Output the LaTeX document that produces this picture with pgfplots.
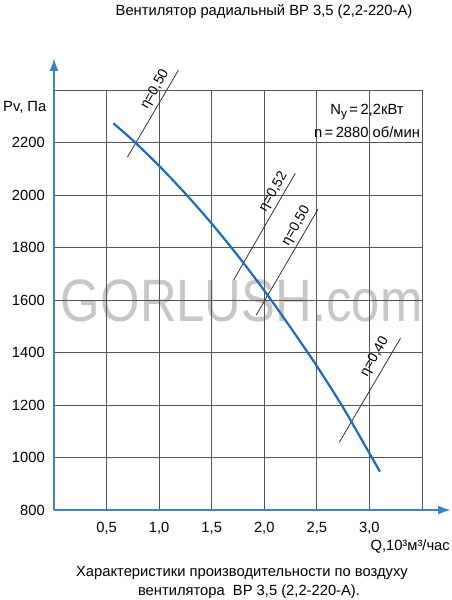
\documentclass[border=0pt]{standalone}
\usepackage{fontspec}
\setmainfont{Liberation Sans}
\usepackage{pgfplots}
\pgfplotsset{compat=1.18}
\usetikzlibrary{arrows.meta}
\definecolor{curveblue}{HTML}{1A6DBE}
\definecolor{axisblue}{HTML}{3A82CA}
\definecolor{gridgray}{HTML}{555555}
\definecolor{etagray}{HTML}{333333}

\begin{document}
\begin{tikzpicture}[x=1bp,y=1bp]
\useasboundingbox (0,0) rectangle (452,600);
% watermark
\node[anchor=base west, text=black!22, xscale=0.85, font=\fontsize{60}{60}\selectfont] at (58,278) {GORLUSH.com};
\begin{axis}[
  at={(54bp,90bp)}, anchor=south west,
  scale only axis, width=368bp, height=420bp,
  xmin=0, xmax=3.5, ymin=800, ymax=2400,
  xtick={0.5,1,1.5,2,2.5,3,3.5},
  xticklabels={{0,5},{1,0},{1,5},{2,0},{2,5},{3,0},{}},
  ytick={800,1000,...,2400},
  yticklabels={800,1000,1200,1400,1600,1800,2000,2200,{}},
  major tick length=0pt,
  grid=major,
  grid style={gridgray, line width=0.9bp},
  axis line style={draw=none},
  tick label style={font=\fontsize{14.8}{17}\selectfont},
  xticklabel style={anchor=base, yshift=-23bp},
  yticklabel style={anchor=east, inner sep=0pt, xshift=-9bp},
  clip=false,
]
% efficiency lines
\addplot[etagray, line width=0.8bp] coordinates {(0.698,2144) (1.184,2476)};
\addplot[etagray, line width=0.8bp] coordinates {(1.708,1676) (2.295,2083)};
\addplot[etagray, line width=0.8bp] coordinates {(1.924,1543) (2.511,1946)};
\addplot[etagray, line width=0.8bp] coordinates {(2.714,1058) (3.295,1454)};
% fan curve
\addplot[curveblue, line width=2.2bp, smooth] coordinates {
  (0.565,2273) (0.75,2208) (1.0,2111) (1.25,2005) (1.5,1891) (1.75,1768)
  (2.0,1636) (2.25,1495) (2.5,1348) (2.75,1190) (3.0,1016) (3.10,946)};
\node[rotate=60, font=\fontsize{14}{14}\selectfont] at (axis cs:0.962,2402) {η=0,50};
\node[rotate=60, font=\fontsize{14}{14}\selectfont] at (axis cs:2.089,2011) {η=0,52};
\node[rotate=60, font=\fontsize{14}{14}\selectfont] at (axis cs:2.305,1882) {η=0,50};
\node[rotate=60, font=\fontsize{14}{14}\selectfont] at (axis cs:3.051,1383) {η=0,40};
% axes with arrows
\draw[axisblue, line width=2bp, -{Latex[length=13bp, width=9bp]}] (rel axis cs:0,0) -- ++(0bp,452bp);
\draw[axisblue, line width=2bp, -{Latex[length=13bp, width=9bp]}] (rel axis cs:0,0) -- ++(397bp,0bp);
\end{axis}
\begin{scope}[font=\fontsize{14.8}{17}\selectfont]
\node at (264,588) {Вентилятор радиальный ВР 3,5 (2,2-220-А)};
\node[anchor=west, inner sep=0pt] at (3,493) {Pv, Па};
\node at (367,488) {N\raisebox{-2.5bp}{\fontsize{12}{12}\selectfont y}\,=\,2,2кВт};
\node at (367,468) {n\,=\,2880 об/мин};
\node[anchor=east, inner sep=0pt] at (450,53) {Q,10³м³/час};
\node at (242,26.7) {Характеристики производительности по воздуху};
\node at (249,8.3) {вентилятора\ \ ВР 3,5 (2,2-220-А).};
\end{scope}
\end{tikzpicture}
\end{document}
